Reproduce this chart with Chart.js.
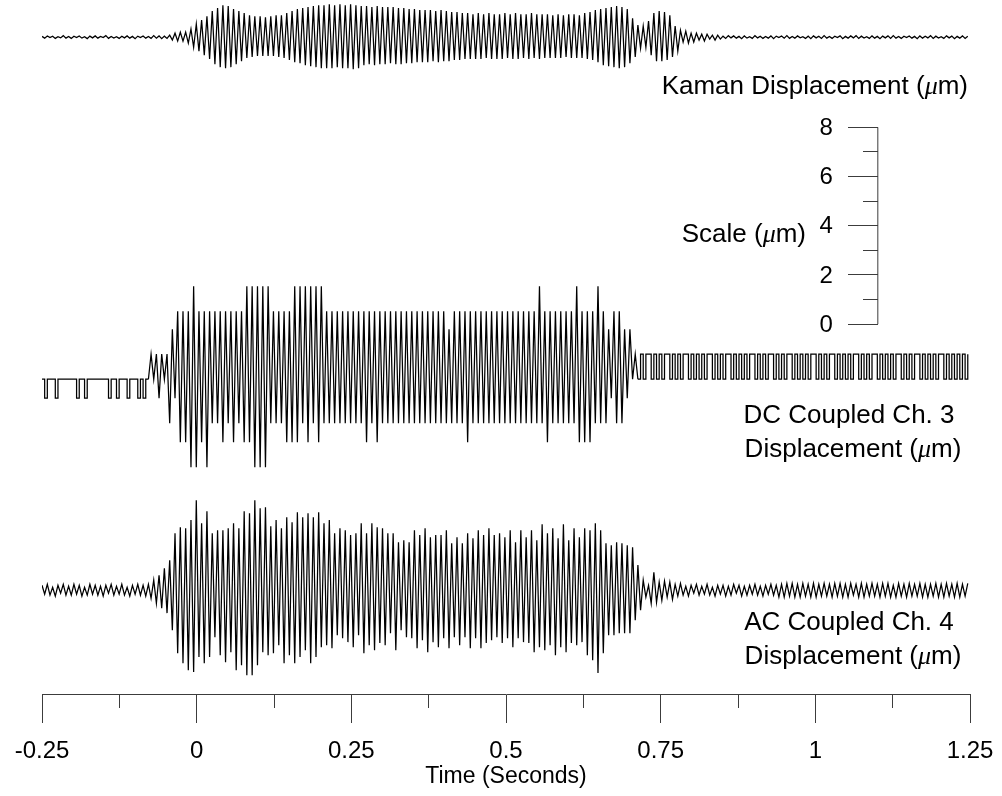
<!DOCTYPE html>
<html>
<head>
<meta charset="utf-8">
<script src="https://cdn.jsdelivr.net/npm/chart.js@4.4.1/dist/chart.umd.min.js"></script>
<style>
  body { margin: 0; background: #fff; }
  #wrap { width: 1002px; height: 796px; }
</style>
</head>
<body>
<div id="wrap"><canvas id="grafico"></canvas></div>
<script>
// Tiempo y escalas
const T0 = -0.25;        // first sample (s)
const HALF = 0.0043;     // time between successive extremes (s)
const timeTicks = [-0.25, 0, 0.25, 0.5, 0.75, 1, 1.25];
const timeMinor = [-0.125, 0.125, 0.375, 0.625, 0.875, 1.125];
const scaleTicks = [0, 2, 4, 6, 8];
const scaleMinor = [1, 3, 5, 7];

// Kaman displacement (um), successive peaks / troughs
const kamanLead = [
  0.03,-0.04,0.05,-0.02,0.04,-0.05,0.02,-0.03,
  0.06,-0.04,0.03,-0.05,0.04,-0.02,0.05,-0.04,
  0.02,-0.06,0.04,-0.03,0.05,-0.04,0.03,-0.02,
  0.06,-0.05,0.03,-0.04,0.02,-0.05,0.04,-0.03,
  0.05,-0.04,0.03,-0.06,0.04,-0.02,0.05,-0.04,
  0.03,-0.05,0.06,-0.04,0.05,-0.06,0.04,-0.05
];
const kamanBurst = [
  0.08,-0.12,0.16,-0.16,0.20,-0.16,0.20,-0.24,
  0.33,-0.41,0.53,-0.57,0.69,-0.73,0.85,-0.89,
  1.06,-1.10,1.18,-1.22,1.30,-1.26,1.26,-1.22,
  1.14,-1.10,1.06,-0.98,0.98,-0.85,0.89,-0.81,
  0.85,-0.77,0.85,-0.77,0.81,-0.77,0.85,-0.77,
  0.89,-0.81,0.89,-0.85,0.98,-0.93,1.06,-1.02,
  1.14,-1.06,1.18,-1.14,1.22,-1.18,1.26,-1.22,
  1.30,-1.26,1.30,-1.26,1.34,-1.26,1.30,-1.22,
  1.34,-1.26,1.30,-1.26,1.34,-1.30,1.30,-1.26,
  1.26,-1.14,1.26,-1.10,1.22,-1.14,1.26,-1.10,
  1.22,-1.10,1.22,-1.06,1.22,-1.10,1.18,-1.10,
  1.18,-1.06,1.14,-1.06,1.14,-1.02,1.10,-1.02,
  1.10,-1.02,1.10,-0.98,1.06,-1.02,1.10,-0.98,
  1.06,-0.98,1.02,-0.93,1.02,-0.93,0.98,-0.89,
  0.98,-0.89,0.93,-0.89,0.98,-0.89,0.93,-0.85,
  0.98,-0.89,0.93,-0.89,0.93,-0.89,0.98,-0.85,
  0.93,-0.89,0.98,-0.89,0.93,-0.85,0.93,-0.89,
  0.98,-0.85,0.93,-0.89,0.93,-0.85,0.93,-0.85,
  0.89,-0.85,0.93,-0.85,0.89,-0.81,0.93,-0.85,
  0.93,-0.85,0.89,-0.85,0.98,-0.89,1.02,-0.93,
  1.10,-1.02,1.14,-1.14,1.18,-1.18,1.22,-1.22,
  1.26,-1.26,1.22,-1.22,1.14,-1.06,0.77,-0.81,
  0.49,-0.45,0.45,-0.41,0.65,-0.73,0.98,-0.98,
  1.06,-0.98,1.02,-0.93,0.89,-0.81,0.45,-0.57,
  0.28,-0.20,0.24,-0.24,0.16,-0.20,0.16,-0.12,
  0.12,-0.16,0.12,-0.08,0.08,-0.12,0.08,-0.08
];
const kamanTail = [
  0.04,-0.05,0.06,-0.03,0.05,-0.04,0.03,-0.06,
  0.05,-0.04,0.02,-0.05,0.06,-0.03,0.04,-0.05,
  0.03,-0.04,0.05,-0.06,0.04,-0.02,0.05,-0.04,
  0.06,-0.05,0.03,-0.04,0.05,-0.03,0.02,-0.05,
  0.04,-0.06,0.05,-0.03,0.04,-0.05,0.06,-0.04,
  0.03,-0.05,0.04,-0.02,0.05,-0.06,0.03,-0.04,
  0.05,-0.03,0.06,-0.05,0.04,-0.04,0.02,-0.05,
  0.05,-0.04,0.03,-0.06,0.04,-0.03,0.05,-0.05,
  0.06,-0.04,0.03,-0.05,0.04,-0.02,0.05,-0.04,
  0.03,-0.06,0.05,-0.04,0.04,-0.03,0.06,-0.05,
  0.04,-0.04,0.02,-0.05,0.05,-0.03,0.04,-0.06,
  0.03,-0.04,0.05,-0.05,0.04
];

// DC coupled ch. 3 (um), quantised levels
const dcLead = [
  0,-0.77,0,0,0,-0.77,0,0,
  0,0,0,0,0,-0.77,0,0,
  -0.77,0,0,0,0,0,0,0,
  0,-0.77,0,0,-0.77,0,0,0,
  -0.77,0,0,0,-0.77,0,-0.77,0
];
const dcBurst = [
  0,1.02,0,1.02,-0.77,1.02,0,1.02,
  -1.79,2.03,-0.77,2.76,-2.56,2.76,-2.56,2.76,
  -3.58,3.78,-3.58,2.76,-2.56,2.76,-3.58,2.76,
  -1.79,2.76,-1.79,2.76,-2.56,2.76,-1.79,2.76,
  -2.56,2.76,-1.79,2.76,-2.56,3.78,-2.56,3.78,
  -3.58,3.78,-3.58,3.78,-3.58,3.78,-1.79,2.76,
  -1.79,2.76,-1.79,2.76,-2.56,2.76,-2.56,3.78,
  -2.56,3.78,-1.79,3.78,-2.56,3.78,-1.79,3.78,
  -2.56,3.78,-1.79,2.76,-1.79,2.76,-1.79,2.76,
  -1.79,2.76,-1.79,2.76,-1.79,2.76,-1.79,2.76,
  -1.79,2.76,-2.56,2.76,-1.79,2.76,-2.56,2.76,
  -1.79,2.76,-1.79,2.76,-1.79,2.76,-1.79,2.76,
  -1.79,2.76,-1.79,2.76,-1.79,2.76,-1.79,2.76,
  -1.79,2.76,-1.79,2.76,-1.79,2.76,-1.79,2.76,
  -1.79,2.03,-1.79,2.76,-1.79,2.76,-1.79,2.76,
  -2.56,2.76,-1.79,2.76,-1.79,2.76,-1.79,2.76,
  -1.79,2.76,-1.79,2.76,-1.79,2.76,-1.79,2.76,
  -1.79,2.76,-1.79,2.76,-1.79,2.76,-1.79,2.76,
  -1.79,2.76,-1.79,3.78,-1.79,2.76,-2.56,2.76,
  -1.79,2.76,-1.79,2.76,-1.79,2.76,-1.79,2.76,
  -1.79,3.78,-2.56,2.76,-2.56,2.76,-2.56,2.76,
  -1.79,3.78,-1.79,2.76,-1.79,2.03,-0.77,2.76,
  -1.79,2.76,-1.79,2.03,-0.77,2.03,0,1.02
];
const dcTail = [
  0,1.02,0,1.02,1.02,0,1.02,0,1.02,0,
  1.02,1.02,0,1.02,0,1.02,0,1.02,1.02,0,
  1.02,0,1.02,0,1.02,0,1.02,1.02,0,1.02,
  0,1.02,0,1.02,1.02,0,1.02,0,1.02,0,
  1.02,0,1.02,1.02,0,1.02,0,1.02,0,1.02,
  1.02,0,1.02,0,1.02,0,1.02,1.02,0,1.02,
  0,1.02,0,1.02,0,1.02,1.02,0,1.02,0,
  1.02,0,1.02,1.02,0,1.02,0,1.02,0,1.02,
  0,1.02,1.02,0,1.02,0,1.02,0,1.02,1.02,
  0,1.02,0,1.02,0,1.02,0,1.02,1.02,0,
  1.02,0,1.02,0,1.02,1.02,0,1.02,0,1.02,
  0,1.02,0,1.02,1.02,0,1.02,0,1.02,0,
  1.02,0,1.02,0,1.02
];

// AC coupled ch. 4 (um), successive peaks / troughs
const acLead = [
  0.20,-0.16,0.24,-0.20,0.12,-0.24,0.20,-0.12,
  0.24,-0.20,0.16,-0.20,0.24,-0.16,0.20,-0.24,
  0.12,-0.20,0.24,-0.16,0.20,-0.20,0.16,-0.24,
  0.20,-0.12,0.24,-0.20,0.16,-0.16,0.24,-0.20,
  0.12,-0.24,0.20,-0.16,0.24,-0.20,0.20,-0.24
];
const acBurst = [
  0.24,-0.33,0.41,-0.53,0.61,-0.73,0.89,-0.93,
  1.22,-1.63,2.32,-2.56,2.56,-2.97,2.52,-3.25,
  2.85,-3.33,3.66,-2.72,2.72,-2.97,3.21,-2.72,
  2.32,-1.91,2.44,-2.64,2.44,-2.93,2.52,-2.52,
  2.72,-3.25,2.52,-3.05,3.21,-3.46,3.13,-3.46,
  3.66,-3.05,3.33,-2.52,3.37,-2.64,2.60,-2.56,
  2.85,-2.24,2.52,-2.97,2.97,-2.64,2.76,-2.97,
  3.17,-2.72,2.97,-2.44,3.13,-2.97,2.97,-2.72,
  3.17,-2.32,2.72,-2.24,2.85,-2.36,2.32,-1.83,
  2.52,-1.95,2.44,-2.11,2.24,-2.32,2.32,-1.83,
  2.72,-2.56,2.32,-2.24,2.72,-2.44,2.56,-2.15,
  2.52,-2.24,2.32,-1.75,2.32,-2.44,1.95,-1.63,
  2.03,-1.91,1.95,-1.95,2.44,-2.36,2.24,-2.03,
  2.52,-2.52,2.15,-2.11,2.24,-2.32,2.24,-1.95,
  2.44,-2.36,1.91,-1.91,2.15,-2.24,1.91,-1.91,
  2.32,-2.36,2.11,-1.95,2.44,-2.36,2.24,-2.15,
  2.52,-2.03,2.24,-1.91,2.32,-2.15,2.15,-1.95,
  2.44,-2.32,1.95,-1.95,2.44,-2.11,2.15,-2.15,
  2.44,-2.52,2.03,-2.32,2.68,-2.44,2.32,-2.24,
  2.52,-2.64,2.11,-2.32,2.68,-2.52,2.03,-2.15,
  2.52,-2.24,2.15,-2.11,2.52,-2.64,2.44,-2.85,
  2.72,-3.37,2.44,-2.56,1.91,-1.83,1.83,-1.83,
  1.95,-1.75,1.91,-1.75,1.83,-1.75,1.75,-1.22,
  1.02,-0.81,0.41,-0.28,0.20,-0.53,0.73,-0.49,
  0.33,-0.41,0.37,-0.28,0.33,-0.37,0.24,-0.24,
  0.28
];
const acTail = [
  -0.20,0.16,-0.24,0.20,-0.12,0.24,-0.20,0.16,-0.16,0.24,-0.20,0.12,
  -0.24,0.20,-0.16,0.20,-0.24,0.16,-0.20,0.24,-0.12,0.20,-0.24,0.16,
  -0.20,0.20,-0.16,0.24,-0.20,0.16,-0.24,0.20,-0.16,0.24,-0.20,0.20,
  -0.28,0.24,-0.28,0.28,-0.24,0.28,-0.28,0.24,-0.28,0.28,-0.24,0.24,
  -0.28,0.28,-0.28,0.24,-0.24,0.28,-0.24,0.24,-0.28,0.28,-0.24,0.28,
  -0.28,0.24,-0.28,0.28,-0.20,0.24,-0.28,0.28,-0.28,0.24,-0.24,0.28,
  -0.24,0.24,-0.28,0.28,-0.24,0.28,-0.28,0.20,-0.28,0.28,-0.24,0.24,
  -0.28,0.28,-0.24,0.24,-0.24,0.28,-0.28,0.24,-0.28,0.24,-0.24,0.28,
  -0.28,0.24,-0.28,0.28,-0.24,0.24,-0.28,0.28,-0.28,0.24,-0.24,0.28
];

// Posicion vertical de cada traza sobre la escala (um)
const KAMAN_Y = 11.67;
const DC_Y = -2.24;
const AC_Y = -10.82;
const Y_MIN = -15.04, Y_MAX = 13.18;
const SCALE_X = 1.101;

const ink = '#000';
const axisInk = '#3c3c3c';
const font = '"Liberation Sans", Arial, sans-serif';
const tickSize = 24;
const labelSize = 26;

function trace(values, first, offset) {
    return values.map(function(v, k) {
        return {x: T0 + (first + k) * HALF, y: v + offset};
    });
}

const kaman = kamanLead.concat(kamanBurst, kamanTail);
const dc = dcLead.concat(dcBurst, dcTail);
const ac = acLead.concat(acBurst, acTail);
const dcA = dcLead.length;
const dcB = dcLead.length + dcBurst.length;

function line(data, stepped, color, width) {
    return {
        data: data,
        borderColor: color || ink,
        borderWidth: width || 1.25,
        pointRadius: 0,
        tension: 0,
        stepped: stepped || false,
        fill: false
    };
}

//Texto con la mu en cursiva
function richText(ctx, parts, x, y, align) {
    let w = 0;
    parts.forEach(function(p) { ctx.font = p[1]; w += ctx.measureText(p[0]).width; });
    let cx = align === 'right' ? x - w : (align === 'center' ? x - w / 2 : x);
    parts.forEach(function(p) {
        ctx.font = p[1];
        ctx.fillText(p[0], cx, y);
        cx += ctx.measureText(p[0]).width;
    });
}
const txt = labelSize + 'px ' + font;
const mu = 'italic ' + labelSize + 'px "Liberation Serif", "DejaVu Serif", serif';
function unit(prefix) { return [[prefix + '(', txt], ['\u03bc', mu], ['m)', txt]]; }

const labels = [
    {parts: unit('Kaman Displacement '), x: 968, y: 87, align: 'right'},
    {parts: unit('Scale '), x: 806, y: 235, align: 'right'},
    {parts: [['DC Coupled Ch. 3', txt]], x: 849, y: 416, align: 'center'},
    {parts: unit('Displacement '), x: 853, y: 450, align: 'center'},
    {parts: [['AC Coupled Ch. 4', txt]], x: 849, y: 623, align: 'center'},
    {parts: unit('Displacement '), x: 853, y: 657, align: 'center'}
];

const etiquetas = {
    id: 'etiquetas',
    afterDraw: function(chart) {
        const ctx = chart.ctx;
        const ys = chart.scales.y;
        const axisPx = chart.scales.x.getPixelForValue(SCALE_X);
        ctx.save();
        ctx.fillStyle = ink;
        ctx.textBaseline = 'middle';
        labels.forEach(function(l) { richText(ctx, l.parts, l.x, l.y, l.align); });
        // numeros de la escala
        ctx.font = tickSize + 'px ' + font;
        ctx.textAlign = 'right';
        scaleTicks.forEach(function(v) {
            ctx.fillText(String(v), axisPx - 45, ys.getPixelForValue(v) + 1);
        });
        ctx.restore();
    }
};

new Chart(document.getElementById('grafico'), {
    type: 'line',
    data: {
        datasets: [
            line(trace(kaman, 0, KAMAN_Y)),
            line(trace(ac, 0, AC_Y)),
            line(trace(dc.slice(0, dcA + 1), 0, DC_Y), true),
            line(trace(dc.slice(dcA, dcB + 1), dcA, DC_Y)),
            line(trace(dc.slice(dcB), dcB, DC_Y), true),
            line([{x: SCALE_X, y: scaleTicks[0]}, {x: SCALE_X, y: scaleTicks[scaleTicks.length - 1]}], false, axisInk, 1)
        ]
    },
    options: {
        responsive: true,
        maintainAspectRatio: false,
        animation: false,
        events: [],
        layout: { padding: { left: 42, right: 32, top: 0, bottom: 0 } },
        plugins: { legend: { display: false }, tooltip: { enabled: false } },
        scales: {
            x: {
                type: 'linear',
                position: 'bottom',
                min: timeTicks[0],
                max: timeTicks[timeTicks.length - 1],
                afterBuildTicks: function(s) { s.ticks = timeTicks.map(function(v) { return {value: v}; }); },
                afterFit: function(s) { s.height = 102; },
                grid: { drawOnChartArea: false, tickLength: 29, color: axisInk, tickWidth: 1 },
                border: { display: true, color: axisInk, width: 1 },
                ticks: {
                    color: ink, padding: 0, maxRotation: 0, autoSkip: false,
                    font: { family: font, size: tickSize, lineHeight: 2.4 },
                    callback: function(v) { return String(Math.round(v * 100) / 100); }
                },
                title: {
                    display: true, text: 'Time (Seconds)', color: ink,
                    font: { family: font, size: 23 },
                    padding: { top: 0, bottom: 6 }
                }
            },
            x2: {
                type: 'linear',
                position: { y: Y_MIN },
                min: timeTicks[0],
                max: timeTicks[timeTicks.length - 1],
                afterBuildTicks: function(s) { s.ticks = timeMinor.map(function(v) { return {value: v}; }); },
                grid: { drawOnChartArea: false, tickLength: 14, color: axisInk, tickWidth: 1 },
                border: { display: false },
                ticks: { display: false }
            },
            y: {
                type: 'linear',
                position: { x: SCALE_X },
                min: Y_MIN,
                max: Y_MAX,
                afterBuildTicks: function(s) { s.ticks = scaleTicks.map(function(v) { return {value: v}; }); },
                grid: { drawOnChartArea: false, tickLength: 30, color: axisInk, tickWidth: 1 },
                border: { display: false },
                ticks: { display: false }
            },
            y2: {
                type: 'linear',
                position: { x: SCALE_X },
                min: Y_MIN,
                max: Y_MAX,
                afterBuildTicks: function(s) { s.ticks = scaleMinor.map(function(v) { return {value: v}; }); },
                grid: { drawOnChartArea: false, tickLength: 15, color: axisInk, tickWidth: 1 },
                border: { display: false },
                ticks: { display: false }
            }
        }
    },
    plugins: [etiquetas]
});
</script>
</body>
</html>
